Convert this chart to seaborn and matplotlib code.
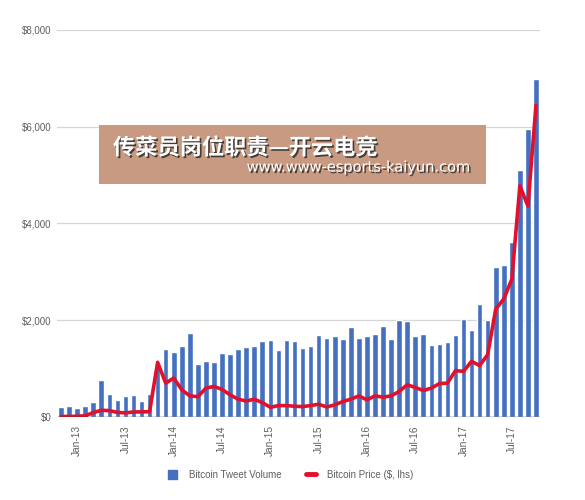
import numpy as np
import pandas as pd
import matplotlib
matplotlib.use("Agg")
import matplotlib.pyplot as plt
import matplotlib.patches as mpatches
import matplotlib.lines as mlines
import matplotlib.patheffects as pe
import seaborn as sns

# ---- data ----
months = pd.date_range("2012-11-01", periods=60, freq="MS").strftime("%b-%y").tolist()
tweet_volume = [205, 225, 180, 222, 315, 770, 475, 360, 430, 450, 340, 472,
                1100, 1405, 1346, 1478, 1728, 1097, 1166, 1145, 1326, 1305, 1409, 1457,
                1478, 1568, 1589, 1388, 1590, 1570, 1432, 1475, 1697, 1640, 1674, 1614,
                1855, 1633, 1675, 1723, 1875, 1612, 2014, 1979, 1675, 1723, 1481, 1502,
                1543, 1695, 2034, 1792, 2346, 2014, 3108, 3136, 3616, 5110, 5952, 6993]
btc_price = [10, 12, 15, 25, 90, 139, 132, 95, 85, 104, 106, 110,
             1131, 700, 805, 562, 437, 420, 597, 632, 570, 458, 368, 330,
             368, 298, 201, 236, 236, 222, 215, 236, 264, 208, 250, 320,
             368, 437, 354, 437, 410, 437, 527, 666, 611, 548, 597, 690,
             701, 958, 944, 1152, 1062, 1291, 2230, 2440, 2850, 4780, 4360, 6445]
y_ticks = [0, 2000, 4000, 6000, 8000]
y_tick_labels = ["$0", "$2,000", "$4,000", "$6,000", "$8,000"]
series_names = ["Bitcoin Tweet Volume", "Bitcoin Price ($, lhs)"]
banner_title = "传菜员岗位职责—开云电竞"
banner_url = "www.www-esports-kaiyun.com"

df = pd.DataFrame({"month": months, "volume": tweet_volume, "price": btc_price})
df["pos"] = np.arange(len(df))

BLUE = "#4570C2"
RED = "#E3102B"
TXT = "#5f5f5f"

sns.set_style("white")
plt.rcParams["font.family"] = ["Liberation Sans", "DejaVu Sans"]

fig = plt.figure(figsize=(5.85, 5.0), dpi=100)
ax = fig.add_axes([57/585, 83/500, (540-57)/585, (417-30)/500])

sns.barplot(data=df, x="pos", y="volume", color=BLUE, width=0.7,
            saturation=1, ax=ax, zorder=2)
sns.lineplot(data=df, x="pos", y="price", color=RED, linewidth=2.6, ax=ax,
             zorder=3, solid_joinstyle="round", solid_capstyle="round")

ax.set_xlim(-0.5, len(df) - 0.5)
ax.set_ylim(0, 8000)
ax.set_yticks(y_ticks)
ax.set_yticklabels(y_tick_labels, fontsize=7, color=TXT)
ax.grid(axis="y", color="#d6d6d6", linewidth=0.9, zorder=0)
ax.grid(axis="x", visible=False)
ax.set_axisbelow(True)
ax.axhline(0, color="#333333", linewidth=1.0, zorder=4)

sel = [i for i, m in enumerate(months) if m.startswith("Jan") or m.startswith("Jul")]
ax.set_xticks(sel)
ax.set_xticklabels([months[i] for i in sel], rotation=90, fontsize=7.3, color=TXT)
ax.tick_params(axis="both", length=0)
ax.tick_params(axis="x", pad=6)
ax.tick_params(axis="y", pad=4)
ax.set_xlabel("")
ax.set_ylabel("")
for s in ax.spines.values():
    s.set_visible(False)

handles = [mpatches.Patch(color=BLUE),
           mlines.Line2D([], [], color=RED, linewidth=3.5)]
fig.legend(handles, series_names, loc="center", bbox_to_anchor=(0.497, 0.05),
           ncol=2, frameon=False, fontsize=7, labelcolor=TXT,
           handlelength=1.0, handleheight=1.0, columnspacing=2.5, handletextpad=1.2)

# banner overlay
fig.patches.append(mpatches.Rectangle((99/585, 316/500), 387/585, 59/500,
                                      transform=fig.transFigure,
                                      facecolor="#C99A82", edgecolor="none",
                                      zorder=5))
shadow = [pe.withSimplePatchShadow(offset=(1.2, -1.2), shadow_rgbFace="#333333", alpha=0.9)]
fig.text(113/585, 1 - 148/500, banner_title, color="white", fontsize=16,
         fontweight="bold", ha="left", va="center",
         family=["Noto Sans CJK SC", "DejaVu Sans"], path_effects=shadow, zorder=6)
fig.text(472/585, 1 - 167/500, banner_url, color="white", fontsize=10.5,
         ha="right", va="center", family=["DejaVu Sans"],
         path_effects=shadow, zorder=6)

fig.savefig("out.png", dpi=100)
